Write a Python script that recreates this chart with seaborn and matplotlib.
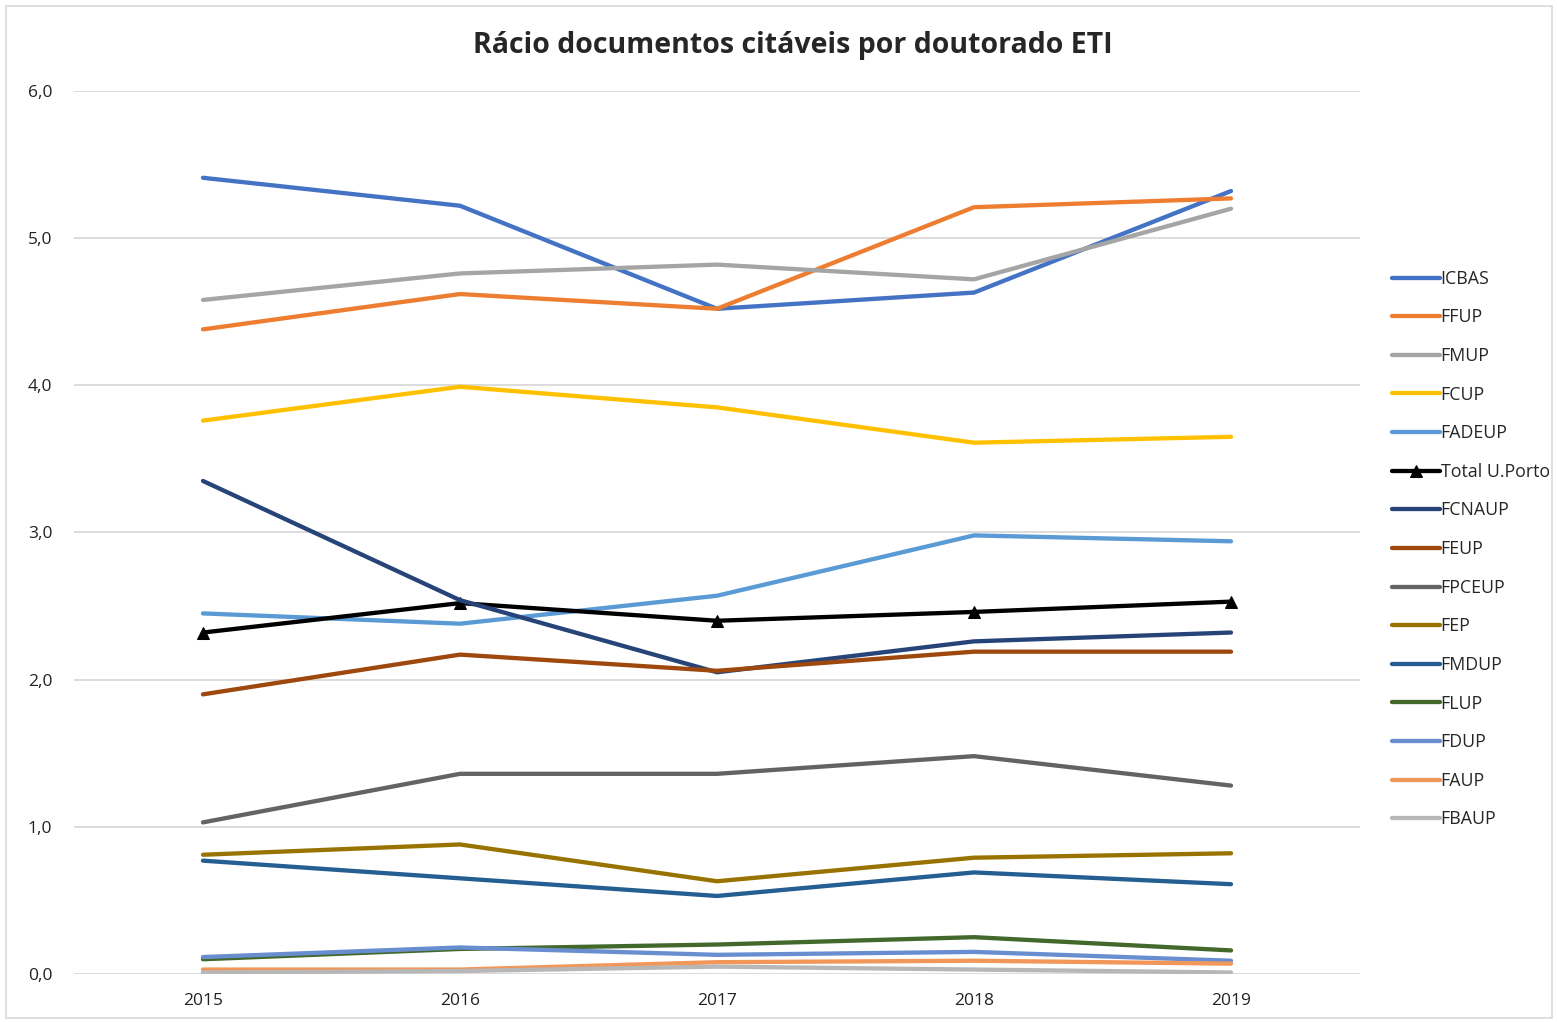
import pandas as pd
import seaborn as sns
import matplotlib.pyplot as plt
from matplotlib.patches import Rectangle
from matplotlib.ticker import FuncFormatter

years = ["2015", "2016", "2017", "2018", "2019"]

icbas = [5.41, 5.22, 4.52, 4.63, 5.32]
ffup = [4.38, 4.62, 4.52, 5.21, 5.27]
fmup = [4.58, 4.76, 4.82, 4.72, 5.20]
fcup = [3.76, 3.99, 3.85, 3.61, 3.65]
fadeup = [2.45, 2.38, 2.57, 2.98, 2.94]
total = [2.32, 2.52, 2.40, 2.46, 2.53]
fcnaup = [3.35, 2.54, 2.05, 2.26, 2.32]
feup = [1.90, 2.17, 2.06, 2.19, 2.19]
fpceup = [1.03, 1.36, 1.36, 1.48, 1.28]
fep = [0.81, 0.88, 0.63, 0.79, 0.82]
fmdup = [0.77, 0.65, 0.53, 0.69, 0.61]
flup = [0.10, 0.17, 0.20, 0.25, 0.16]
fdup = [0.115, 0.18, 0.13, 0.15, 0.09]
faup = [0.03, 0.03, 0.08, 0.09, 0.07]
fbaup = [0.01, 0.02, 0.05, 0.03, 0.01]

series_names = ["ICBAS", "FFUP", "FMUP", "FCUP", "FADEUP", "Total U.Porto",
                "FCNAUP", "FEUP", "FPCEUP", "FEP", "FMDUP", "FLUP", "FDUP",
                "FAUP", "FBAUP"]
series_values = [icbas, ffup, fmup, fcup, fadeup, total, fcnaup, feup,
                 fpceup, fep, fmdup, flup, fdup, faup, fbaup]
colors = ["#4472C4", "#ED7D31", "#A5A5A5", "#FFC000", "#5B9BD5", "#000000",
          "#264478", "#9E480E", "#636363", "#997300", "#255E91", "#43682B",
          "#698ED0", "#F1975A", "#B7B7B7"]

rows = []
for name, vals in zip(series_names, series_values):
    for yr, v in zip(years, vals):
        rows.append({"Ano": yr, "Rácio": v, "Série": name})
df = pd.DataFrame(rows)

sns.set_style("white")
plt.rcParams["font.family"] = ["Open Sans", "DejaVu Sans"]

fig = plt.figure(figsize=(15.58, 10.22), dpi=100)
ax = fig.add_axes([0.0478, 0.047, 0.8248, 0.864])

for name, color in zip(series_names, colors):
    sub = df[df["Série"] == name]
    is_total = name == "Total U.Porto"
    sns.lineplot(data=sub, x="Ano", y="Rácio", ax=ax, color=color,
                 linewidth=3.1, label=name,
                 marker="^" if is_total else None, markersize=9,
                 markeredgecolor=color, sort=False)

ax.set_xlim(-0.5, 4.5)
ax.set_ylim(0, 6)
ax.set_yticks([0, 1, 2, 3, 4, 5, 6])
ax.yaxis.set_major_formatter(FuncFormatter(lambda v, p: f"{v:.1f}".replace(".", ",")))
ax.grid(axis="y", color="#D9D9D9", linewidth=1.3)
ax.set_axisbelow(True)
for s in ax.spines.values():
    s.set_visible(False)
ax.tick_params(axis="both", length=0, labelsize=12.5, colors="#222222")
ax.tick_params(axis="y", pad=16)
ax.tick_params(axis="x", pad=14)
ax.set_xlabel("")
ax.set_ylabel("")

handles, labels = ax.get_legend_handles_labels()
ax.get_legend().remove()
fig.legend(handles, labels, loc="upper left", bbox_to_anchor=(0.889, 0.743),
           frameon=False, fontsize=12.8, handlelength=2.7, handletextpad=0.02,
           labelspacing=1.16, borderaxespad=0)

fig.text(0.509, 0.955, "Rácio documentos citáveis por doutorado ETI",
         ha="center", va="center", fontsize=20.5, fontweight="bold")

fig.patches.append(Rectangle((0.004, 0.004), 0.992, 0.99, transform=fig.transFigure,
                             fill=False, edgecolor="#D9D9D9", linewidth=1.2))

fig.savefig("out.png", dpi=100)
